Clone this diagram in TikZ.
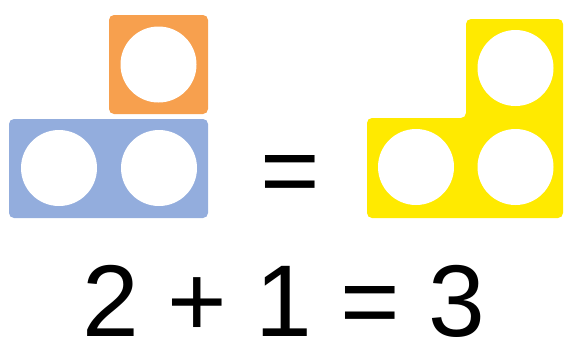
\documentclass[tikz,border=0pt]{standalone}
\usepackage{fontspec}
\setmainfont{Liberation Sans}
\usepackage{tikz}
\usetikzlibrary{positioning}
\definecolor{tileorange}{HTML}{F7A04E}
\definecolor{tileblue}{HTML}{93ADDD}
\definecolor{tileyellow}{HTML}{FFEA00}
\tikzset{tile/.style={rounded corners=5pt},
hole/.style={circle,fill=white,minimum size=76pt,inner sep=0pt},
sign/.style={font=\fontsize{102}{102}\selectfont,inner sep=0pt,anchor=base,text depth=0pt}}

\begin{document}
\begin{tikzpicture}[x=1pt,y=-1pt]
\useasboundingbox (0,0) rectangle (568,338);
% left: one plus two
\fill[tile,tileorange] (109,15) rectangle (208,114);
\fill[tile,tileblue] (9,119) rectangle (208,218);
\node[hole] (o1) at (158.5,64.5) {};
\node[hole] (b1) at (59,168) {};
\node[hole] (b2) at (159,168) {};
% right: three
\fill[tile,tileyellow] (367,118) -- (466,118) -- (466,19) -- (563,19) -- (563,218) -- (367,218) -- cycle;
\node[hole] (y1) at (515.5,68) {};
\node[hole] (y2) at (416,167) {};
\node[hole] (y3) at (515.5,167) {};
\node[sign] (eq) at (290.5,205) {=};
\node[sign] (sum) at (284,336) {2 + 1 = 3};
\end{tikzpicture}
\end{document}
